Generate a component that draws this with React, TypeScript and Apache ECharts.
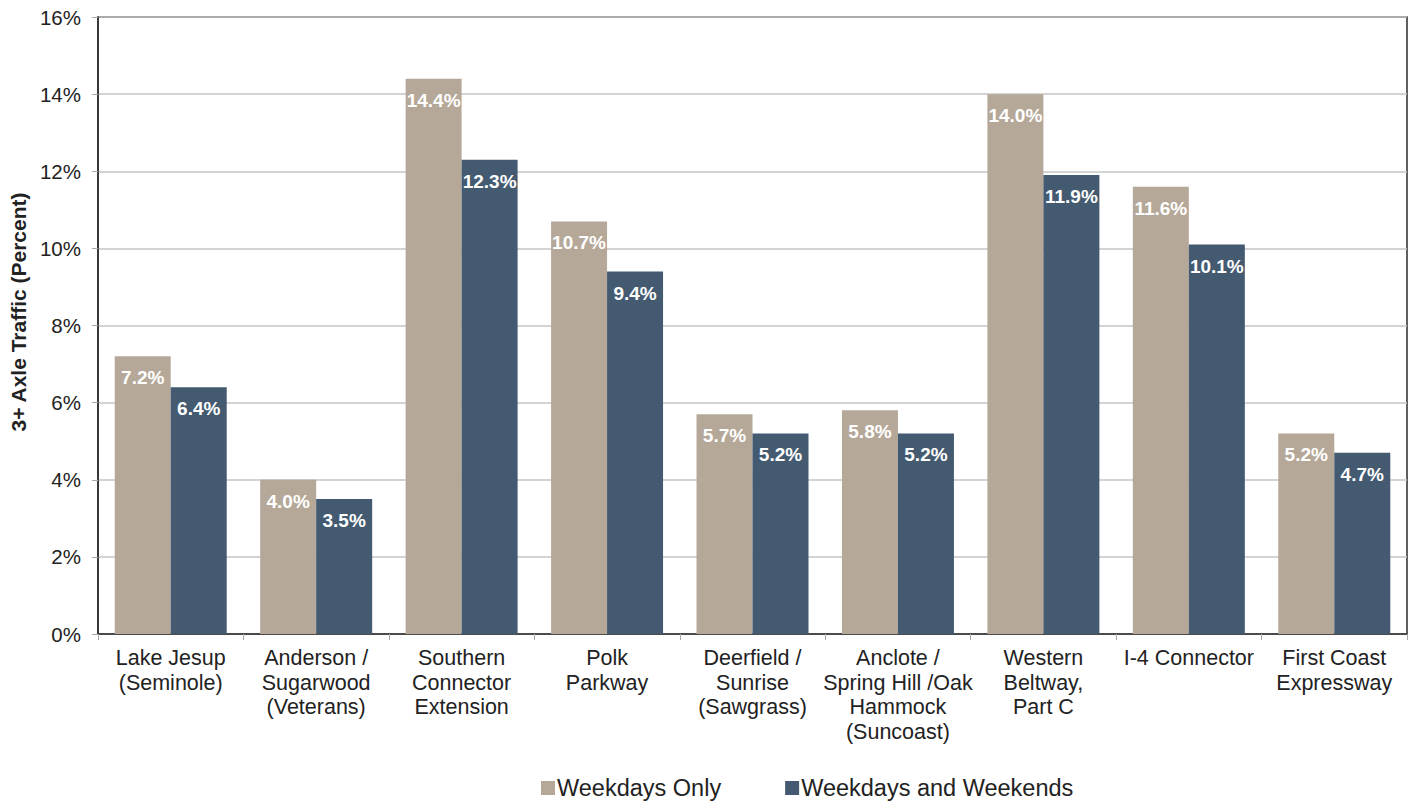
import React, { useEffect, useRef } from "react";
import * as echarts from "echarts";

const categories = [
  "Lake Jesup\n(Seminole)",
  "Anderson /\nSugarwood\n(Veterans)",
  "Southern\nConnector\nExtension",
  "Polk\nParkway",
  "Deerfield /\nSunrise\n(Sawgrass)",
  "Anclote /\nSpring Hill /Oak\nHammock\n(Suncoast)",
  "Western\nBeltway,\nPart C",
  "I-4 Connector",
  "First Coast\nExpressway",
];
const weekdaysOnly = [7.2, 4.0, 14.4, 10.7, 5.7, 5.8, 14.0, 11.6, 5.2];
const weekdaysAndWeekends = [6.4, 3.5, 12.3, 9.4, 5.2, 5.2, 11.9, 10.1, 4.7];
const seriesNames = ["Weekdays Only", "Weekdays and Weekends"];
const yAxisName = "3+ Axle Traffic (Percent)";

const FONT = "'Liberation Sans', Arial, sans-serif";

export default function App() {
  const ref = useRef<HTMLDivElement>(null);
  useEffect(() => {
    if (!ref.current) return;
    const chart = echarts.init(ref.current, null, { renderer: "svg" });
    const label = {
      show: true,
      position: "insideTop",
      distance: 12,
      color: "#ffffff",
      fontWeight: "bold",
      fontSize: 19,
      fontFamily: FONT,
      formatter: (p: any) => `${Number(p.value).toFixed(1)}%`,
    };
    chart.setOption({
      animation: false,
      textStyle: { fontFamily: FONT },
      grid: {
        left: 98,
        right: 2,
        top: 17,
        bottom: 167,
        show: true,
        borderColor: "#2b2b2b",
        borderWidth: 1.5,
        containLabel: false,
      },
      graphic: [
        {
          type: "text",
          x: 18,
          y: 312,
          rotation: Math.PI / 2,
          style: {
            text: yAxisName,
            fontSize: 21,
            fontWeight: "bold",
            fill: "#222",
            fontFamily: FONT,
            align: "center",
            verticalAlign: "middle",
          },
        },
      ],
      legend: {
        top: 776,
        left: 536,
        padding: [0, 5],
        itemWidth: 14,
        itemHeight: 14,
        itemGap: 64,
        icon: "rect",
        textStyle: { fontSize: 23.5, color: "#222", fontFamily: FONT, padding: [0, 0, 0, -3] },
        data: seriesNames,
      },
      xAxis: {
        type: "category",
        data: categories,
        axisLine: { show: true, lineStyle: { color: "#2b2b2b", width: 1.5 } },
        axisTick: { show: true, length: 6, lineStyle: { color: "#aaaaaa" } },
        axisLabel: {
          fontSize: 21.5,
          color: "#222",
          lineHeight: 24.5,
          margin: 12,
          interval: 0,
          fontFamily: FONT,
        },
      },
      yAxis: {
        type: "value",
        min: 0,
        max: 16,
        interval: 2,
        axisLine: { show: true, lineStyle: { color: "#2b2b2b", width: 1.5 } },
        axisTick: { show: true, length: 6, lineStyle: { color: "#aaaaaa" } },
        axisLabel: {
          fontSize: 20.5,
          color: "#222",
          margin: 17,
          fontFamily: FONT,
          formatter: (v: number) => `${v}%`,
        },
        splitLine: { show: true, lineStyle: { color: "#c4c4c4", width: 1.5 } },
      },
      series: [
        {
          name: seriesNames[0],
          type: "bar",
          data: weekdaysOnly,
          barGap: "0%",
          barCategoryGap: "23%",
          itemStyle: { color: "#b5a898" },
          label,
        },
        {
          name: seriesNames[1],
          type: "bar",
          data: weekdaysAndWeekends,
          barGap: "0%",
          barCategoryGap: "23%",
          itemStyle: { color: "#435a70" },
          label,
        },
      ],
    });
    return () => chart.dispose();
  }, []);
  return (
    <div
      ref={ref}
      style={{ position: "absolute", left: 0, top: 0, width: 1409, height: 801 }}
    />
  );
}
